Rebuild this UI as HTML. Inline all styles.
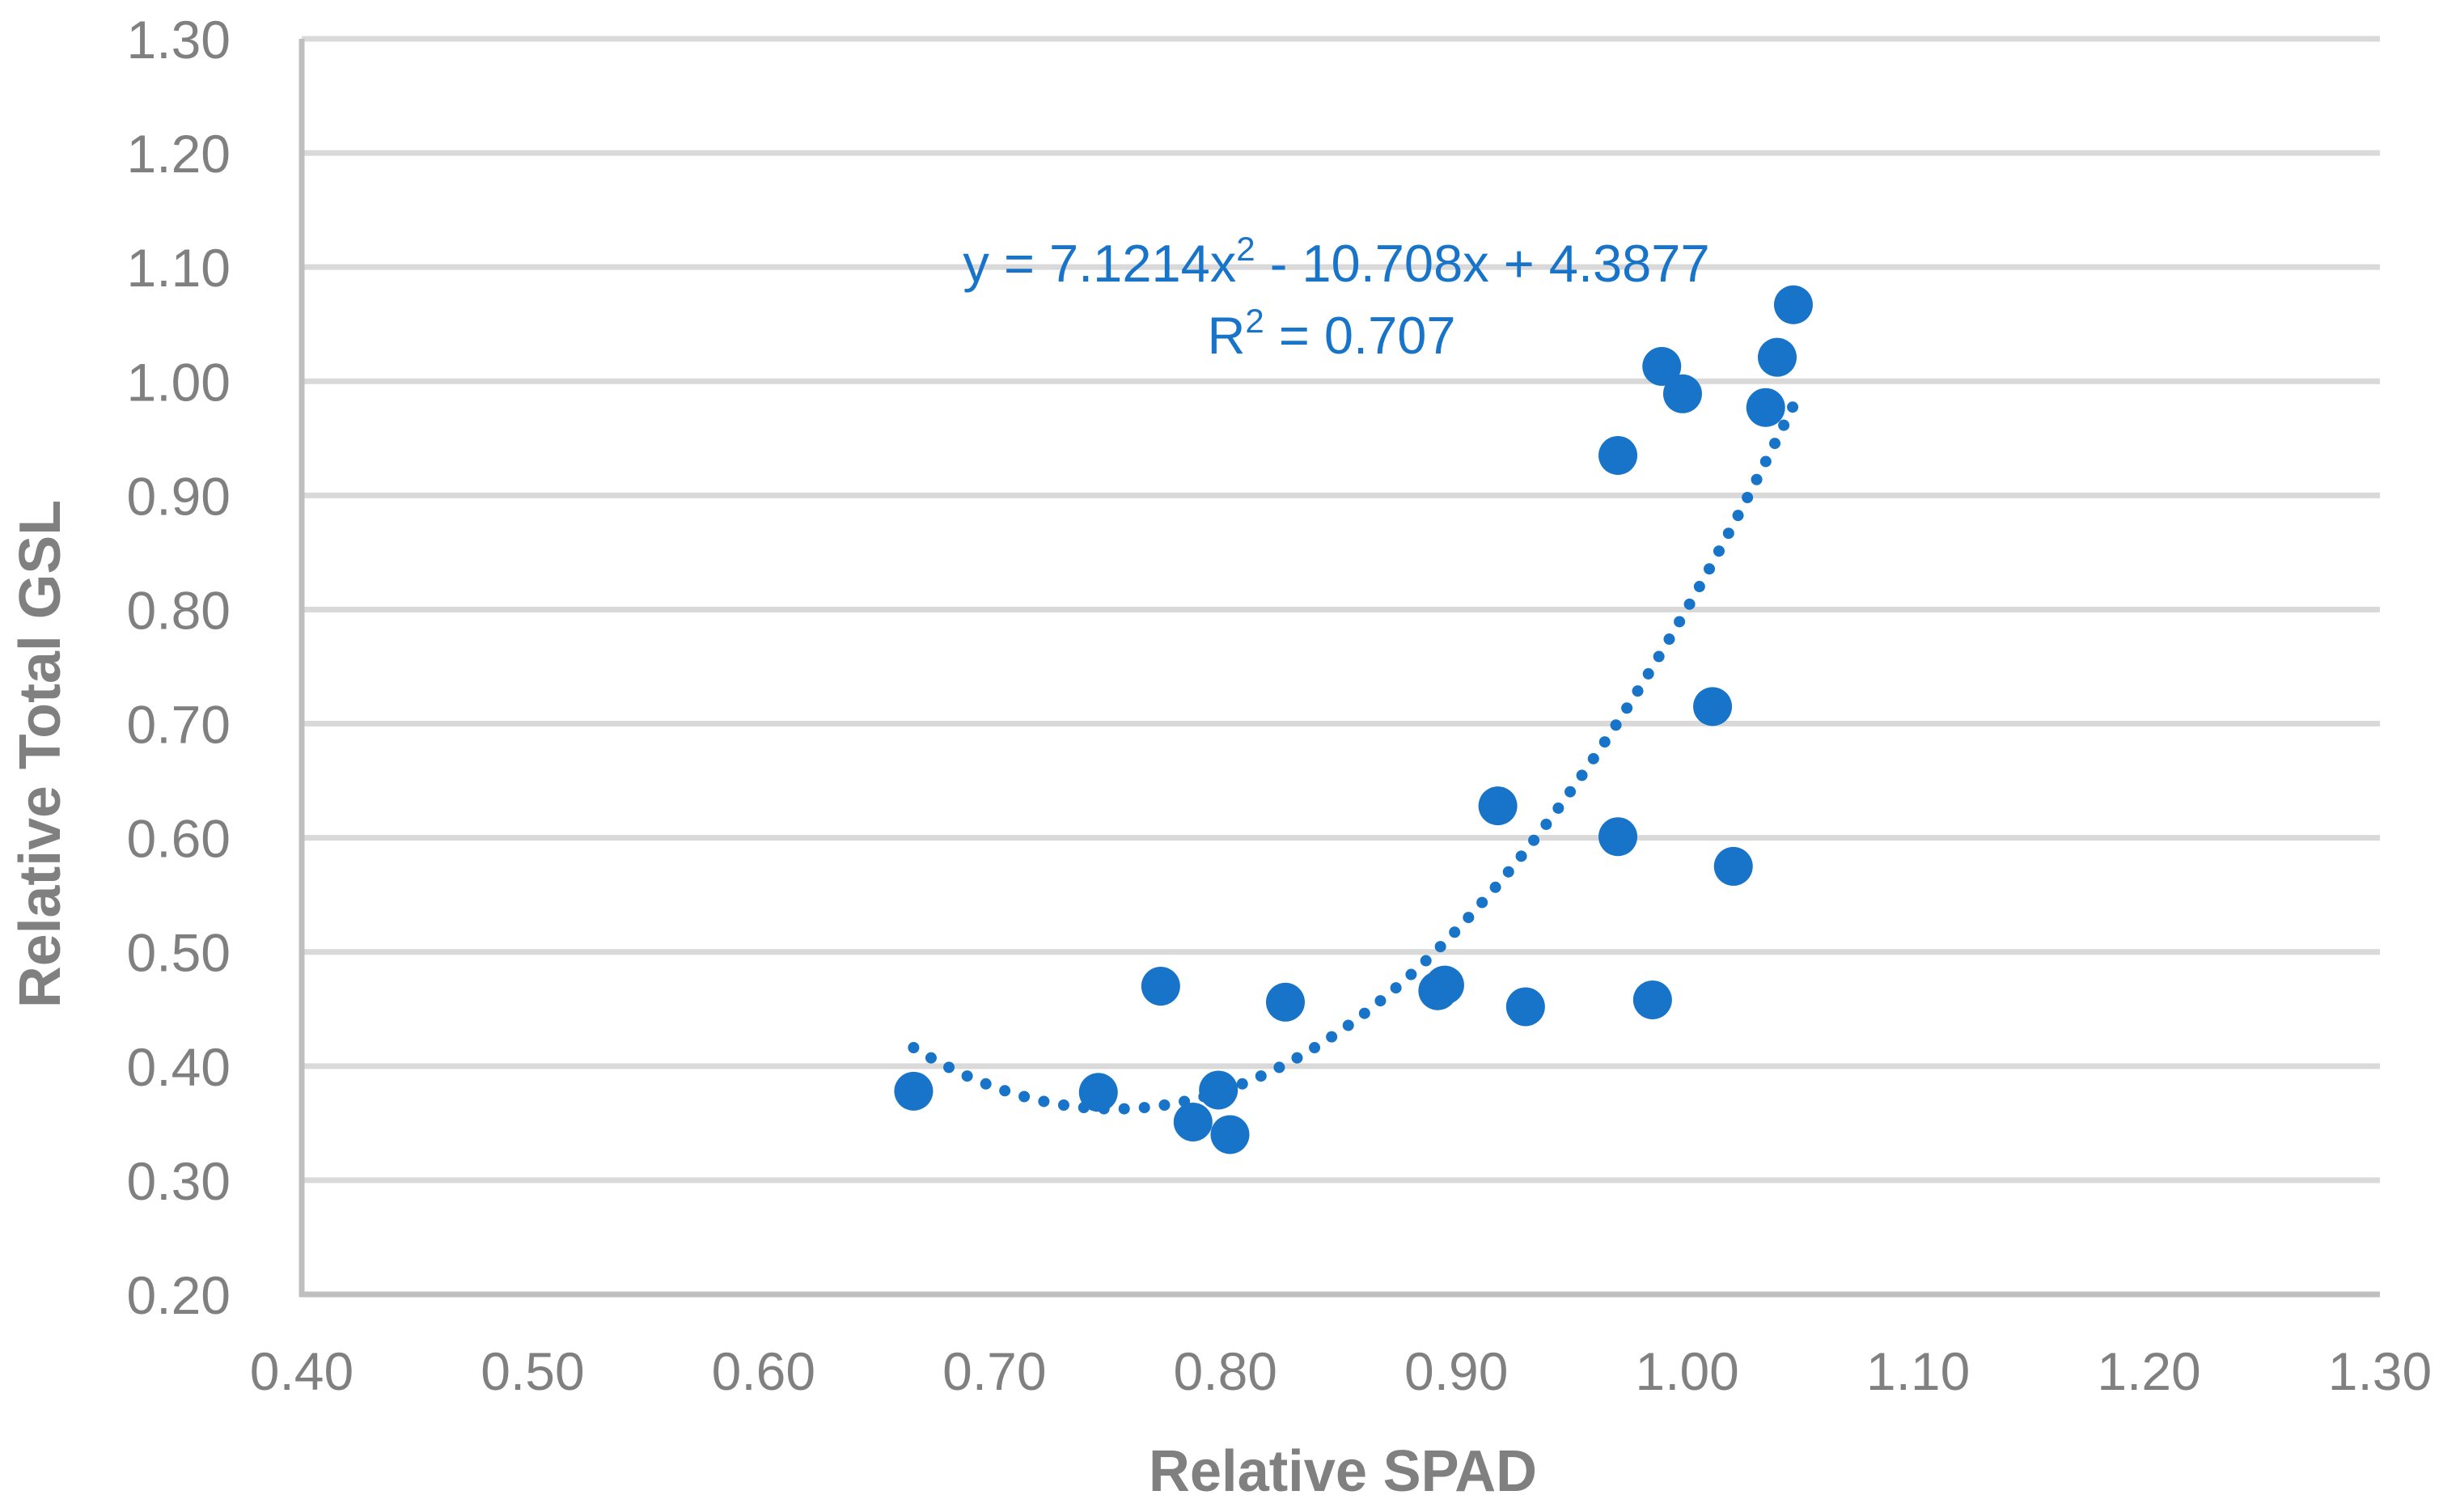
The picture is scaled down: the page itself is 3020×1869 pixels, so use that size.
<!DOCTYPE html>
<html><head><meta charset="utf-8"><style>
html,body{margin:0;padding:0;background:#fff;}
svg{display:block;}
</style></head><body>
<svg id="chart" width="3020" height="1869" viewBox="0 0 3020 1869" xmlns="http://www.w3.org/2000/svg" font-family="'Liberation Sans', sans-serif">
<g id="grid"></g>
<g id="axes"></g>
<g id="ticks"></g>
<path id="trend" fill="none" stroke="#1874c8" stroke-width="14" stroke-linecap="round" stroke-dasharray="0 25"></path>
<g id="pts"></g>
<text x="1652" y="348" text-anchor="middle" font-size="65" fill="#1874c8">y = 7.1214x<tspan font-size="42" dy="-26">2</tspan><tspan dy="26"> - 10.708x + 4.3877</tspan></text>
<text x="1646" y="437" text-anchor="middle" font-size="65" fill="#1874c8">R<tspan font-size="42" dy="-26">2</tspan><tspan dy="26"> = 0.707</tspan></text>
<text x="1660" y="1843" text-anchor="middle" font-size="72" font-weight="bold" fill="#808080" textLength="480" lengthAdjust="spacingAndGlyphs">Relative SPAD</text>
<text transform="translate(74,932) rotate(-90)" text-anchor="middle" font-size="72" font-weight="bold" fill="#808080" textLength="628" lengthAdjust="spacingAndGlyphs">Relative Total GSL</text>
</svg>
<script>
const xTicks = ["0.40","0.50","0.60","0.70","0.80","0.90","1.00","1.10","1.20","1.30"];
const yTicks = ["0.20","0.30","0.40","0.50","0.60","0.70","0.80","0.90","1.00","1.10","1.20","1.30"];
const xValues = [0.665,0.745,0.772,0.786,0.797,0.802,0.826,0.892,0.895,0.918,0.930,0.970,0.970,0.985,0.989,0.998,1.011,1.020,1.034,1.039,1.046];
const yValues = [0.378,0.377,0.470,0.351,0.379,0.340,0.456,0.466,0.471,0.628,0.452,0.601,0.935,0.458,1.013,0.989,0.715,0.575,0.977,1.021,1.067];
const trendCoef = [7.1214,-10.708,4.3877];
const trendRange = [0.665,1.046];

const NS="http://www.w3.org/2000/svg";
const X0=373,X1=2942,Y0=1600,Y1=48;
const xMin=0.4,xMax=1.3,yMin=0.2,yMax=1.3;
const sx=v=>X0+(v-xMin)/(xMax-xMin)*(X1-X0);
const sy=v=>Y0-(v-yMin)/(yMax-yMin)*(Y0-Y1);
function mk(tag,attrs,parent){const e=document.createElementNS(NS,tag);for(const k in attrs)e.setAttribute(k,attrs[k]);parent.appendChild(e);return e;}
const grid=document.getElementById('grid'),axes=document.getElementById('axes'),ticks=document.getElementById('ticks'),pts=document.getElementById('pts');
yTicks.forEach(t=>{
  const v=parseFloat(t),y=sy(v);
  if(v>yMin){const l=mk('line',{x1:X0,x2:X1,y1:y,y2:y,stroke:'#d9d9d9','stroke-width':7},grid);
  
  }
  const tx=mk('text',{x:285,y:y+24,'text-anchor':'end','font-size':66,fill:'#808080'},ticks);
  tx.textContent=t;
  
  
});
xTicks.forEach(t=>{
  const v=parseFloat(t),x=sx(v);
  const tx=mk('text',{x:x,y:1718,'text-anchor':'middle','font-size':66,fill:'#808080'},ticks);
  tx.textContent=t;
  
  
});
const ya=mk('line',{x1:X0,x2:X0,y1:Y1,y2:Y0+3,stroke:'#bfbfbf','stroke-width':7},axes);


const xa=mk('line',{x1:X0-3,x2:X1,y1:Y0,y2:Y0,stroke:'#bfbfbf','stroke-width':7},axes);


let d='';
for(let i=0;i<=200;i++){const x=trendRange[0]+(trendRange[1]-trendRange[0])*i/200;const y=trendCoef[0]*x*x+trendCoef[1]*x+trendCoef[2];d+=(i?'L':'M')+sx(x).toFixed(1)+' '+sy(y).toFixed(1);}
document.getElementById('trend').setAttribute('d',d);
xValues.forEach((xv,i)=>{
  const c=mk('circle',{cx:sx(xv),cy:sy(yValues[i]),r:24,fill:'#1874c8'},pts);
  
  
});
</script>
</body></html>
